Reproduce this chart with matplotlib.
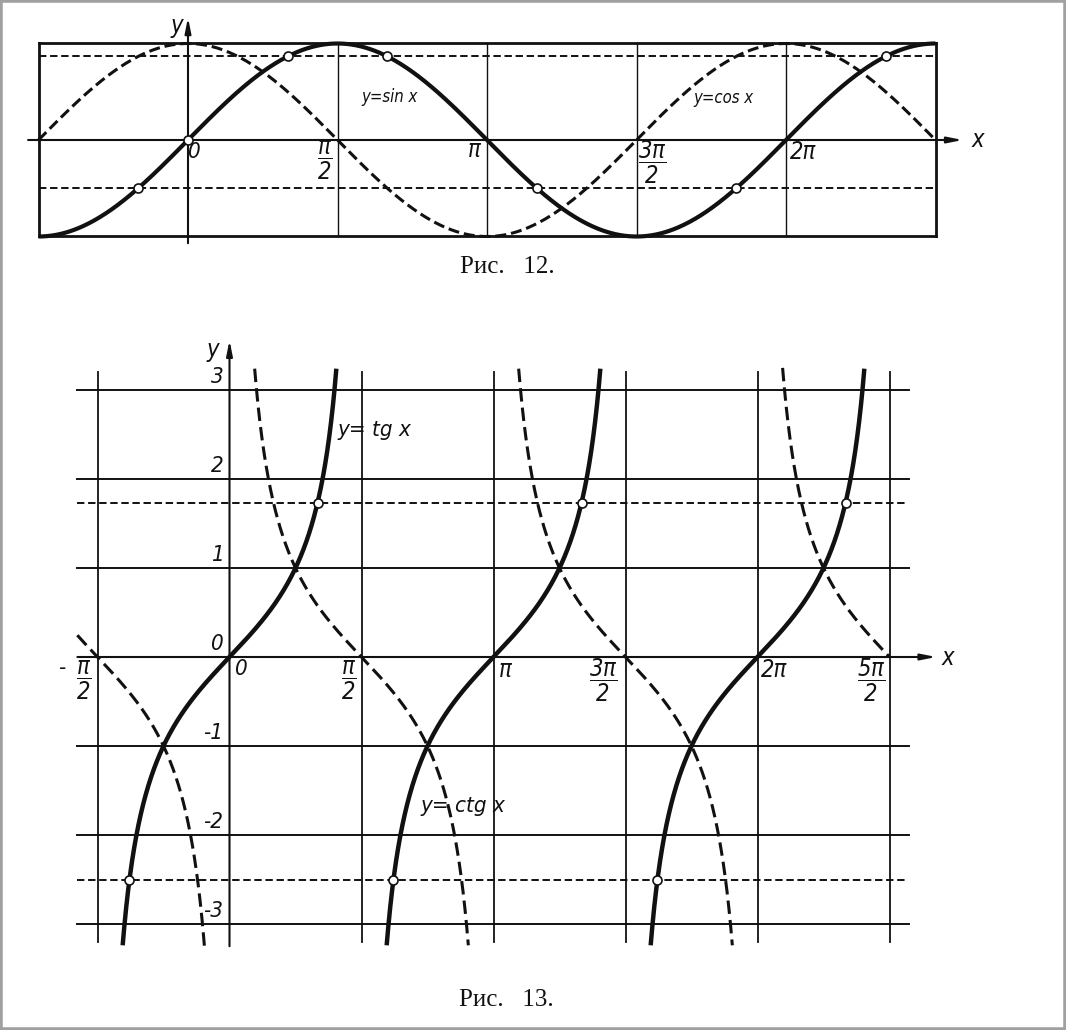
import numpy as np
import matplotlib.pyplot as plt
from matplotlib.patches import Rectangle

plt.rcParams.update({
    "mathtext.fontset": "custom",
    "mathtext.it": "DejaVu Sans:italic:stretch=condensed",
    "mathtext.rm": "DejaVu Sans:italic:stretch=condensed",
})

W, H = 1066, 1030
PI = np.pi
LABEL_FONT = ["DejaVu Sans"]
INK = "#111111"

# ---------- Рис. 12: y = sin x, y = cos x ----------
TRIG_X_MIN, TRIG_X_MAX = -PI / 2, 5 * PI / 2
TRIG_GRID_X = [PI / 2, PI, 3 * PI / 2, 2 * PI]
TRIG_FRAME_Y = [1, -1]
TRIG_DASH_Y = [np.sqrt(3) / 2, -0.5]
SIN_MARK_DEG = [-30, 0, 60, 120, 210, 330, 420]
TRIG_X_LABELS = [r"$\dfrac{π}{2}$", "π", r"$\dfrac{3π}{2}$", "2π"]
TRIG_X_LABEL_OFFS = [(-13, -20), (-13, -10), (16, -22), (17, -12)]

# ---------- Рис. 13: y = tg x, y = ctg x ----------
TG_GRID_X = [-PI / 2, PI / 2, PI, 3 * PI / 2, 2 * PI, 5 * PI / 2]
TG_GRID_Y = [3, 2, 1, -1, -2, -3]
TG_Y_TICKS = [3, 2, 1, 0, -1, -2, -3]
TG_DASH_Y = [np.sqrt(3), -2.5]
TG_POLES = [-PI / 2, PI / 2, 3 * PI / 2, 5 * PI / 2]
CTG_POLES = [-PI, 0, PI, 2 * PI, 3 * PI]
TG_CLIP = 3.25
CTG_START, CTG_END = -PI / 2 - 0.24, 5 * PI / 2
TG_MARK_X = [PI / 3, PI / 3 + PI, PI / 3 + 2 * PI,
             np.arctan(-2.5), np.arctan(-2.5) + PI, np.arctan(-2.5) + 2 * PI]
TG_X_TICKS = [-PI / 2, PI / 2, PI, 3 * PI / 2, 2 * PI, 5 * PI / 2]
TG_X_LABELS = [r"$\dfrac{π}{2}$", r"$\dfrac{π}{2}$", "π", r"$\dfrac{3π}{2}$",
               "2π", r"$\dfrac{5π}{2}$"]
TG_X_LABEL_OFFS = [(-14, -23), (-13, -23), (12, -13), (-22, -23),
                   (17, -13), (-18, -23)]


fig = plt.figure(figsize=(W / 100, H / 100), dpi=100)


def sheet(x0, sx, y0, sy):
    """Axes over the whole page; (x0, y0) is the origin in pixels."""
    ax = fig.add_axes([0, 0, 1, 1])
    ax.set_xlim(-x0 / sx, (W - x0) / sx)
    ax.set_ylim((y0 - H) / sy, y0 / sy)
    ax.axis("off")
    return ax


def label(ax, x, y, s, dx=0, dy=0, size=15, ha="center", va="center"):
    ax.annotate(s, (x, y), xytext=(dx, dy), textcoords="offset pixels",
                ha=ha, va=va, fontsize=size, fontstyle="italic",
                fontstretch="condensed", family=LABEL_FONT, color=INK)


def arrow(ax, start, tip):
    ax.annotate("", xy=tip, xytext=start,
                arrowprops=dict(arrowstyle="-|>,head_length=0.9,head_width=0.18",
                                color=INK, lw=1.5, shrinkA=0, shrinkB=0))


# ================= Рис. 12 =================
ax = sheet(188, 149.5 / (PI / 2), 140, 96.5)

for y in TRIG_FRAME_Y:
    ax.plot([TRIG_X_MIN, TRIG_X_MAX], [y, y], color=INK, lw=2.0)
for x in [TRIG_X_MIN, TRIG_X_MAX]:
    ax.plot([x, x], [-1, 1], color=INK, lw=2.0)
for x in TRIG_GRID_X:
    ax.plot([x, x], [-1, 1], color=INK, lw=1.0)
for y in TRIG_DASH_Y:
    ax.plot([TRIG_X_MIN, TRIG_X_MAX], [y, y], color=INK, lw=1.4,
            dashes=(3.8, 1.9))

arrow(ax, (-1.68, 0), (8.14, 0))
arrow(ax, (0, -1.07), (0, 1.27))

xs = np.linspace(TRIG_X_MIN, TRIG_X_MAX, 800)
ax.plot(xs, np.cos(xs), color=INK, lw=2.2, dashes=(3.6, 1.6))
ax.plot(xs, np.sin(xs), color=INK, lw=3.0, solid_capstyle="butt")

mx = np.radians(SIN_MARK_DEG)
ax.plot(mx, np.sin(mx), "o", ms=6.5, mfc="white", mec=INK, mew=1.2, zorder=5)

label(ax, 0, 0, "0", 6, -12, 16)
for x, s, (dx, dy) in zip(TRIG_GRID_X, TRIG_X_LABELS, TRIG_X_LABEL_OFFS):
    label(ax, x, 0, s, dx, dy, 17)
label(ax, 2.12, 0.45, "y=sin x", size=12)
label(ax, 5.63, 0.44, "y=cos x", size=12)
label(ax, -0.12, 1.18, "y", size=17)
label(ax, 8.30, 0.0, "x", size=17)

ax.text(3.35, -1.32, "Рис.   12.", ha="center", va="center",
        fontsize=18, family=["Liberation Serif", "DejaVu Serif"], color=INK)

# ================= Рис. 13 =================
bx = sheet(229.5, 132 / (PI / 2), 657, 89)

for y in TG_GRID_Y:
    bx.plot([-1.82, 8.09], [y, y], color=INK, lw=1.4)
for x in TG_GRID_X:
    bx.plot([x, x], [-3.2, 3.2], color=INK, lw=1.3)
for y in TG_DASH_Y:
    bx.plot([-1.81, 8.06], [y, y], color=INK, lw=1.4, dashes=(3.8, 1.9))

arrow(bx, (-1.81, 0), (8.41, 0))
arrow(bx, (0, -3.25), (0, 3.56))

for a, b in zip(TG_POLES[:-1], TG_POLES[1:]):
    xs = np.linspace(a + 1e-3, b - 1e-3, 2000)
    ys = np.tan(xs)
    keep = np.abs(ys) <= TG_CLIP
    bx.plot(xs[keep], ys[keep], color=INK, lw=3.2, solid_capstyle="butt")

for a, b in zip(CTG_POLES[:-1], CTG_POLES[1:]):
    xs = np.linspace(max(a + 1e-3, CTG_START), min(b - 1e-3, CTG_END), 2000)
    ys = 1 / np.tan(xs)
    keep = np.abs(ys) <= TG_CLIP
    if keep.any():
        bx.plot(xs[keep], ys[keep], color=INK, lw=2.2, dashes=(4.4, 2.0))

tm = np.array(TG_MARK_X)
bx.plot(tm, np.tan(tm), "o", ms=6.5, mfc="white", mec=INK, mew=1.2, zorder=5)

for v in TG_Y_TICKS:
    label(bx, 0, v, str(v), -6, 3, 16, ha="right", va="bottom")
label(bx, 0, 0, "0", 5, -2, 16, ha="left", va="top")
for x, s, (dx, dy) in zip(TG_X_TICKS, TG_X_LABELS, TG_X_LABEL_OFFS):
    label(bx, x, 0, s, dx, dy, 17)
label(bx, -PI / 2, 0, "-", -36, -11, 16)
label(bx, 1.72, 2.55, "y= tg x", size=16)
label(bx, 2.78, -1.67, "y= ctg x", size=16)
label(bx, -0.20, 3.45, "y", size=17)
label(bx, 8.55, -0.01, "x", size=17)

bx.text(3.30, -3.85, "Рис.   13.", ha="center", va="center",
        fontsize=18, family=["Liberation Serif", "DejaVu Serif"], color=INK)

fig.patches.append(Rectangle((0, 0), 1, 1, transform=fig.transFigure,
                             fill=False, edgecolor="#a0a0a0", lw=4))

fig.savefig("out.png", dpi=100)
